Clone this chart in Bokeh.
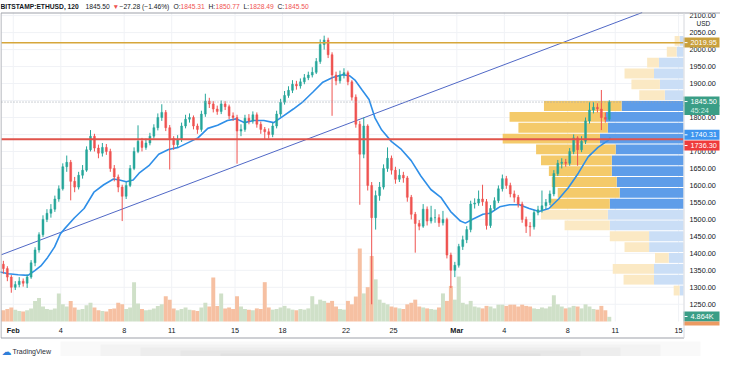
import numpy as np
from bokeh.plotting import figure
from bokeh.models import ColumnDataSource, Range1d
from bokeh.core.properties import value
from bokeh.embed import file_html
from bokeh.resources import INLINE

# ---------------- data ----------------
symbol = "BITSTAMP:ETHUSD, 120"
first_open = 1368.0
candle_hours = 6
first_candle_day = -0.625          # days from 1 Feb 00:00 (candle centre)

closes = [1355,1330,1300,1308,1318,1312,1330,1372,1410,1455,
          1500,1518,1530,1560,1590,1655,1668,1612,1595,1630,
          1645,1705,1745,1710,1695,1712,1700,1650,1625,1595,
          1568,1600,1650,1700,1730,1712,1725,1745,1770,1800,
          1815,1770,1738,1720,1735,1775,1795,1800,1775,1765,
          1810,1848,1840,1825,1818,1840,1832,1805,1800,1760,
          1765,1798,1790,1808,1780,1765,1758,1750,1775,1810,
          1845,1865,1880,1898,1893,1905,1917,1925,1933,1965,
          2015,2028,1985,1925,1908,1925,1932,1905,1860,1780,
          1692,1775,1600,1505,1570,1595,1650,1680,1645,1618,
          1630,1622,1565,1515,1488,1480,1530,1495,1505,1505,
          1490,1500,1395,1350,1365,1420,1440,1470,1545,1548,
          1560,1552,1482,1532,1555,1590,1620,1600,1575,1565,
          1545,1500,1480,1478,1520,1528,1540,1550,1575,1635,
          1665,1668,1665,1700,1740,1705,1730,1790,1822,1830,
          1825,1800,1795,1845.5]
highs = [1378,1362,1336,1318,1330,1326,1338,1380,1418,1462,
         1512,1530,1545,1570,1600,1665,1688,1675,1625,1640,
         1660,1715,1763,1752,1720,1725,1722,1708,1660,1632,
         1602,1610,1660,1712,1777,1740,1738,1755,1780,1812,
         1839,1822,1778,1745,1748,1785,1808,1812,1806,1782,
         1820,1870,1858,1848,1835,1850,1848,1838,1815,1808,
         1780,1808,1810,1818,1815,1788,1772,1768,1785,1820,
         1855,1878,1892,1910,1908,1915,1928,1935,1948,1975,
         2030,2041,2035,1992,1935,1938,1945,1938,1910,1868,
         1790,1800,1780,1610,1585,1610,1662,1712,1688,1655,
         1648,1640,1628,1572,1522,1498,1545,1538,1540,1530,
         1515,1525,1505,1402,1375,1428,1452,1480,1555,1562,
         1585,1602,1560,1542,1565,1600,1632,1628,1608,1585,
         1572,1552,1508,1492,1528,1540,1585,1560,1585,1645,
         1675,1680,1678,1710,1750,1745,1745,1800,1845,1845,
         1842,1881,1815,1850.77]
lows = [1340,1318,1284,1292,1300,1302,1298,1325,1362,1402,
        1448,1492,1505,1522,1552,1585,1640,1556,1580,1588,
        1620,1640,1700,1700,1680,1685,1690,1640,1612,1580,
        1495,1560,1595,1645,1695,1700,1705,1718,1738,1762,
        1790,1760,1647,1705,1712,1728,1768,1785,1765,1752,
        1758,1802,1828,1815,1808,1810,1822,1795,1790,1664,
        1745,1758,1780,1782,1770,1752,1735,1738,1742,1768,
        1802,1838,1858,1872,1882,1885,1898,1910,1918,1928,
        1958,2000,1975,1805,1895,1900,1915,1895,1850,1770,
        1543,1680,1585,1250,1470,1555,1588,1640,1632,1605,
        1610,1608,1552,1500,1402,1468,1475,1482,1488,1490,
        1478,1482,1385,1298,1330,1358,1410,1430,1462,1532,
        1540,1540,1470,1475,1525,1548,1582,1590,1565,1550,
        1535,1490,1460,1450,1470,1512,1520,1530,1542,1568,
        1628,1650,1655,1658,1692,1658,1698,1722,1782,1812,
        1815,1763,1785,1790]
volumes_k = [36,40,45,38,34,32,36,42,66,75,
             48,40,38,42,90,55,48,66,45,38,
             40,52,60,45,36,34,32,40,42,60,
             55,40,45,126,58,40,36,38,42,50,
             55,81,70,42,36,40,45,38,36,34,
             45,60,48,141,50,90,42,45,40,81,
             48,40,38,36,42,40,126,45,38,40,
             45,50,42,38,36,40,38,42,81,55,
             70,66,60,66,48,40,38,66,55,80,
             234,90,110,210,135,70,60,55,48,45,
             42,40,55,60,70,48,45,42,40,38,
             45,90,66,114,70,144,60,55,66,48,
             45,42,50,48,42,54,54,50,54,54,
             48,54,50,48,42,40,45,42,48,84,
             55,48,42,45,50,48,42,55,48,40,
             38,50,36,15]

ma_days = [-0.93,-0.31,0.31,0.93,1.36,1.74,2.17,2.61,2.98,3.29,3.85,4.47,5.09,5.71,6.33,
           6.70,7.13,7.57,7.94,8.56,9.18,9.80,10.42,11.04,11.66,12.28,12.90,13.52,14.08,
           14.58,15.20,15.82,16.44,17.06,17.68,18.30,18.92,19.54,20.16,20.78,21.22,21.59,
           22.02,22.46,22.83,23.26,23.88,24.50,25.12,25.74,26.36,26.99,27.61,28.23,28.54,
           29.03,29.65,30.09,30.71,31.33,31.95,32.57,33.19,33.81,34.43,35.05,35.67,36.29,
           36.91,37.53,37.70]
ma_values = [1346,1340,1337,1335,1349,1363,1388,1419,1458,1475,1504,1532,1580,1602,1619,
             1616,1611,1616,1636,1658,1692,1706,1712,1726,1740,1768,1777,1791,1796,
             1785,1791,1791,1785,1805,1825,1847,1875,1904,1918,1926,1923,1909,
             1881,1853,1799,1763,1729,1706,1673,1627,1588,1565,1523,1495,1489,
             1501,1515,1518,1537,1543,1543,1532,1523,1532,1560,1594,1636,1684,
             1712,1732,1740.31]

trend_days = [-0.744, 39.70]
trend_prices = [1396, 2109]

level_orange = 2019.95
level_red = 1736.30
last_price = 1845.50
ma_last = 1740.31
last_volume = "4.864K"
countdown = "45:24"

# visible-range volume profile, rows from top (2041.5) to bottom (1274.5)
profile_high, profile_low = 2041.5, 1274.5
profile_up = [4,7,25,30,24,19,63,79,77,85,69,73,73,68,65,75,77,75,35,35,15,30,30,4]
profile_down = [5,10,12,30,29,26,79,98,91,99,81,72,64,66,63,61,68,46,40,25,14,42,31,6]
profile_in_value_area = [False]*6 + [True]*10 + [False]*8

date_ticks = [0, 3, 7, 10, 14, 17, 21, 24, 28, 31, 35, 38, 42]
date_labels = ["Feb", "4", "8", "11", "15", "18", "22", "25", "Mar", "4", "8", "11", "15"]
price_ticks = list(range(1250, 2101, 50))

header_parts = [("1845.50", "#131722"), ("\u25bc", "#ef5350"),
                ("\u221227.28 (\u22121.46%)", "#131722")]
ohlc_parts = [("O:", "1845.31"), ("H:", "1850.77"), ("L:", "1828.49"), ("C:", "1845.50")]

# ---------------- geometry & styling ----------------
FONT = "Liberation Sans"
UP, DOWN = "#26a69a", "#ef5350"
TXT = "#131722"
BORDER = "#9ea1a9"
GRID = "#f0f2f6"

W, H = 720, 356
PL, PR, PT, PB = 1, 683, 12, 321          # price pane in canvas pixels
X0, X1 = -0.744, 42.31                     # visible days
Y0, Y1 = 1199.3, 2109.2                    # visible prices
kx = (PR - PL) / (X1 - X0)
ky = (PB - PT) / (Y1 - Y0)


def fx(px):
    return X0 + (px - PL) / kx


def fy(py):
    return Y1 - (py - PT) / ky


n = len(closes)
t = first_candle_day + np.arange(n) * candle_hours / 24.0
opens = [first_open] + closes[:-1]
is_up = [c >= o for o, c in zip(opens, closes)]
cols = [UP if u else DOWN for u in is_up]
vcols = ["#cfe0c8" if u else "#f6c0a2" for u in is_up]
src = ColumnDataSource(dict(
    t=t, o=opens, c=closes, h=highs, l=lows, v=volumes_k, col=cols, vcol=vcols,
    top=np.maximum(opens, closes), bot=np.minimum(opens, closes)))

p = figure(width=W, height=H, x_range=Range1d(fx(0), fx(W)), y_range=Range1d(fy(H), fy(0)),
           x_axis_location=None, y_axis_location=None, toolbar_location=None,
           output_backend="svg", min_border=0, outline_line_color=None,
           background_fill_color="white", border_fill_color="white")
p.grid.visible = False

# volume scale (bottom of pane) and volume-profile scale (anchored at right of pane)
vpp = 990 / (PB - PT)
p.extra_y_ranges = {"vol": Range1d(-(H - PB) * vpp, 990 + PT * vpp)}
upx = 694 / (PR - PL)
p.extra_x_ranges = {"vp": Range1d(694 + PL * upx, -(W - PR) * upx)}

# grid
p.segment(x0=date_ticks, y0=Y0, x1=date_ticks, y1=Y1, line_color=GRID, line_width=1)
p.segment(x0=X0, y0=price_ticks, x1=X1, y1=price_ticks, line_color=GRID, line_width=1)

# volume
p.vbar(x="t", width=0.25, top="v", bottom=0, y_range_name="vol", source=src,
       fill_color="vcol", line_color=None)

# volume profile
edges = np.linspace(profile_high, profile_low, len(profile_up) + 1)
centres = (edges[:-1] + edges[1:]) / 2
row_h = (profile_high - profile_low) / len(profile_up)
up_arr = np.array(profile_up, dtype=float)
dn_arr = np.array(profile_down, dtype=float)
blue = ["#5e9de9" if va else "#cadef6" for va in profile_in_value_area]
yellow = ["#f4ca6a" if va else "#fbe9c4" for va in profile_in_value_area]
p.hbar(y=centres, height=row_h - 3, left=up_arr, right=0, x_range_name="vp",
       fill_color=blue, line_color=None)
p.hbar(y=centres, height=row_h - 3, left=up_arr + dn_arr, right=up_arr, x_range_name="vp",
       fill_color=yellow, line_color=None)

# trend line and moving average
p.line(trend_days, trend_prices, line_color="#5068c6", line_width=1)
p.line(ma_days, ma_values, line_color="#2f8fe8", line_width=1.6)

# candles
p.segment(x0="t", y0="l", x1="t", y1="h", line_color="col", line_width=1, source=src)
p.vbar(x="t", width=0.12, top="top", bottom="bot", fill_color="col", line_color="col",
       line_width=0.5, source=src)

# horizontal levels
p.line([X0, X1], [last_price, last_price], line_color="#9aa0aa", line_width=1, line_dash="1 2")
p.line([X0, X1], [level_orange, level_orange], line_color="#d6a63a", line_width=1.5)
p.line([X0, X1], [level_red, level_red], line_color="#e0544c", line_width=2)

# price scale labels
p.text(x=fx(PR + 6), y=price_ticks, text=[f"{v:.2f}" for v in price_ticks],
       text_font=value(FONT), text_font_size="7.3px", text_color=TXT,
       text_align="left", text_baseline="middle")
p.text(x=fx(PR + 13), y=fy(23), text=["USD"], text_font=value(FONT),
       text_font_size="6.5px", text_color=TXT, text_align="left", text_baseline="middle")
# area above the pane hides the top of the 2100 label
p.quad(left=fx(PR), right=fx(W), top=fy(0), bottom=fy(PT), fill_color="white", line_color=None)

# time scale labels
p.text(x=date_ticks, y=fy(PB + 9), text=date_labels,
       text_font_style=["bold" if s in ("Feb", "Mar") else "normal" for s in date_labels],
       text_font=value(FONT), text_font_size="7.3px", text_color=TXT,
       text_align="center", text_baseline="middle")


# price-scale tags
def tag(text, price, bg, fg="white", h=10):
    yc = price
    half = h / 2 / ky
    p.quad(left=fx(PR), right=fx(W - 1), top=yc + half, bottom=yc - half,
           fill_color=bg, line_color=None)
    p.text(x=fx(PR + 7), y=yc, text=[text], text_font=value(FONT), text_font_size="7.3px",
           text_color=fg, text_align="left", text_baseline="middle")


tag(f"{level_orange:.2f}", 2020.5, "#c9a03c")
tag(f"{last_price:.2f}", 1847.0, "#3a9e86")
tag(countdown, 1822.0, "#3a9e86", fg="#cdeee3")
tag(f"{ma_last:.2f}", 1749.0, "#3d95ef")
tag(f"{level_red:.2f}", 1717.5, "#ef3b3b")
tag(last_volume, fy(PB - 5), "#3a9e86")
p.quad(left=fx(PR), right=fx(W - 1), top=fy(PB), bottom=fy(PB + 4), fill_color="#ec9a62",
       line_color=None)
p.segment(x0=fx(PR + 1), x1=fx(PR + 4),
          y0=[2020.5, 1847.0, 1749.0, 1717.5, fy(PB - 5)],
          y1=[2020.5, 1847.0, 1749.0, 1717.5, fy(PB - 5)], line_color="white", line_width=1)

# frame lines
yb = fy(PB + 16.5)
p.segment(x0=fx(0.5), y0=fy(PT + 0.5), x1=fx(W), y1=fy(PT + 0.5), line_color=BORDER)
p.segment(x0=fx(0.5), y0=fy(PT + 0.5), x1=fx(0.5), y1=yb, line_color=BORDER)
p.segment(x0=fx(0.5), y0=yb, x1=fx(PR + 0.5), y1=yb, line_color=BORDER)
p.segment(x0=fx(PR + 0.5), y0=fy(PT + 0.5), x1=fx(PR + 0.5), y1=yb, line_color="#d6d8dd")

# soft drop shadow under the chart
for l, r, tp in [(60, 700, 341), (100, 660, 344), (140, 620, 347), (180, 580, 350),
                 (220, 540, 353)]:
    p.quad(left=fx(l), right=fx(r), top=fy(tp), bottom=fy(H), fill_color="#000000",
           fill_alpha=0.022, line_color=None)

# header (legend line)
HS = "6.7px"
hy = fy(5.5)
p.text(x=fx(0), y=hy, text=[symbol], text_font=value(FONT), text_font_style="bold",
       text_font_size=HS, text_color=TXT, text_align="left", text_baseline="middle")
for (txt, c), xpos in zip(header_parts, [85, 112, 119]):
    p.text(x=fx(xpos), y=hy, text=[txt], text_font=value(FONT), text_font_size=HS,
           text_color=c, text_align="left", text_baseline="middle")
for (k, v), xpos, dx in zip(ohlc_parts, [173, 208, 243, 277], [7, 7, 6, 7]):
    p.text(x=fx(xpos), y=hy, text=[k], text_font=value(FONT), text_font_size=HS,
           text_color=TXT, text_align="left", text_baseline="middle")
    p.text(x=fx(xpos + dx), y=hy, text=[v], text_font=value(FONT), text_font_size=HS,
           text_color="#ef5350", text_align="left", text_baseline="middle")

# footer logo
p.text(x=fx(1), y=fy(PB + 30), text=["\u2601"], text_font=value("DejaVu Sans"),
       text_font_size="10px", text_color="#2f7fd9", text_align="left", text_baseline="middle")
p.text(x=fx(12), y=fy(PB + 30), text=["TradingView"], text_font=value(FONT),
       text_font_size="7px", text_color="#2a2e39", text_align="left", text_baseline="middle")

open("out.html", "w").write(file_html(p, INLINE))
